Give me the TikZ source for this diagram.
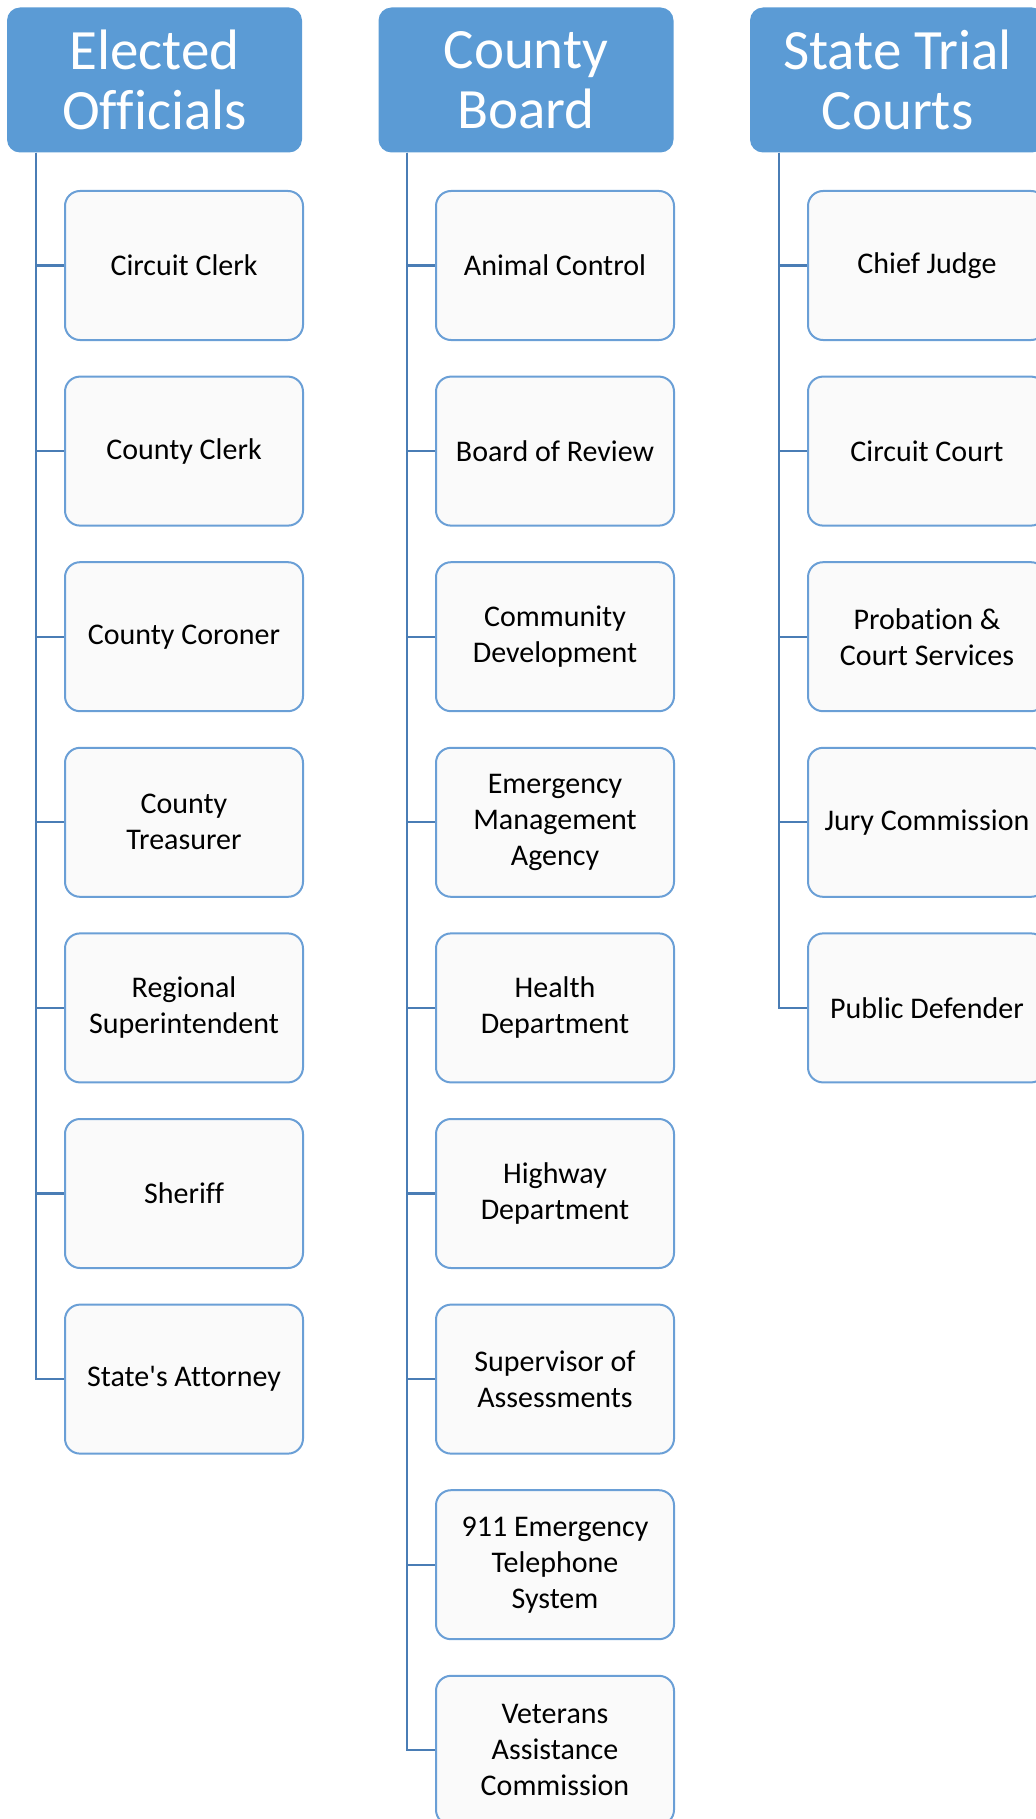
\documentclass[tikz,border=0pt]{standalone}
\usepackage{fontspec}
\setmainfont{Carlito}[Ligatures=NoCommon]
\usepackage{xcolor}
\definecolor{hdrblue}{HTML}{5B9BD5}
\definecolor{boxline}{HTML}{6A9FD6}
\definecolor{boxfill}{HTML}{FAFAFA}
\definecolor{linkblue}{HTML}{4A7DB5}

\begin{document}
\begin{tikzpicture}[x=0.5pt, y=-0.5pt,
  head/.style={fill=hdrblue, rounded corners=6.5pt, minimum width=147.5pt,
    minimum height=72.5pt, inner sep=0pt, align=center, text=white,
    font=\fontsize{28.5}{30}\selectfont},
  unit/.style={draw=boxline, fill=boxfill, line width=1pt, rounded corners=7.5pt,
    minimum width=119pt, minimum height=74.5pt, inner sep=0pt, align=center,
    font=\fontsize{15}{18}\selectfont},
  link/.style={draw=linkblue, line width=1.1pt}]
\useasboundingbox (0,0) rectangle (1036,1819);
\clip (0,0) rectangle (1036,1819);
% heads
\node[head] (eo) at (154.5,80) {Elected\\Officials};
\node[head] (cb) at (526,80) {County\\Board};
\node[head] (stc) at (897.5,80) {State Trial\\Courts};
% elected officials
\node[unit] (cclerk) at (184,265.5) {Circuit Clerk};
\node[unit] (coclerk) at (184,451.1) {County Clerk};
\node[unit] (coroner) at (184,636.7) {County Coroner};
\node[unit] (treas) at (184,822.3) {County\\Treasurer};
\node[unit] (regsup) at (184,1007.9) {Regional\\Superintendent};
\node[unit] (sheriff) at (184,1193.5) {Sheriff};
\node[unit] (sattorney) at (184,1379.1) {State\textquotesingle s Attorney};
% county board
\node[unit] (animal) at (555,265.5) {Animal Control};
\node[unit] (review) at (555,451.1) {Board of Review};
\node[unit] (commdev) at (555,636.7) {Community\\Development};
\node[unit] (ema) at (555,822.3) {Emergency\\Management\\Agency};
\node[unit] (health) at (555,1007.9) {Health\\Department};
\node[unit] (highway) at (555,1193.5) {Highway\\Department};
\node[unit] (assess) at (555,1379.1) {Supervisor of\\Assessments};
\node[unit] (nineoneone) at (555,1564.7) {911 Emergency\\Telephone\\System};
\node[unit] (veterans) at (555,1750.3) {Veterans\\Assistance\\Commission};
% state trial courts
\node[unit] (judge) at (927,265.5) {Chief Judge};
\node[unit] (ccourt) at (927,451.1) {Circuit Court};
\node[unit] (probation) at (927,636.7) {Probation \&\\Court Services};
\node[unit] (jury) at (927,822.3) {Jury Commission};
\node[unit] (defender) at (927,1007.9) {Public Defender};
% connectors
\draw[link] ([xshift=14.5pt]eo.south west) |- (cclerk.west);
\draw[link] ([xshift=14.5pt]eo.south west) |- (coclerk.west);
\draw[link] ([xshift=14.5pt]eo.south west) |- (coroner.west);
\draw[link] ([xshift=14.5pt]eo.south west) |- (treas.west);
\draw[link] ([xshift=14.5pt]eo.south west) |- (regsup.west);
\draw[link] ([xshift=14.5pt]eo.south west) |- (sheriff.west);
\draw[link] ([xshift=14.5pt]eo.south west) |- (sattorney.west);
\draw[link] ([xshift=14.5pt]cb.south west) |- (animal.west);
\draw[link] ([xshift=14.5pt]cb.south west) |- (review.west);
\draw[link] ([xshift=14.5pt]cb.south west) |- (commdev.west);
\draw[link] ([xshift=14.5pt]cb.south west) |- (ema.west);
\draw[link] ([xshift=14.5pt]cb.south west) |- (health.west);
\draw[link] ([xshift=14.5pt]cb.south west) |- (highway.west);
\draw[link] ([xshift=14.5pt]cb.south west) |- (assess.west);
\draw[link] ([xshift=14.5pt]cb.south west) |- (nineoneone.west);
\draw[link] ([xshift=14.5pt]cb.south west) |- (veterans.west);
\draw[link] ([xshift=14.5pt]stc.south west) |- (judge.west);
\draw[link] ([xshift=14.5pt]stc.south west) |- (ccourt.west);
\draw[link] ([xshift=14.5pt]stc.south west) |- (probation.west);
\draw[link] ([xshift=14.5pt]stc.south west) |- (jury.west);
\draw[link] ([xshift=14.5pt]stc.south west) |- (defender.west);
\end{tikzpicture}
\end{document}
